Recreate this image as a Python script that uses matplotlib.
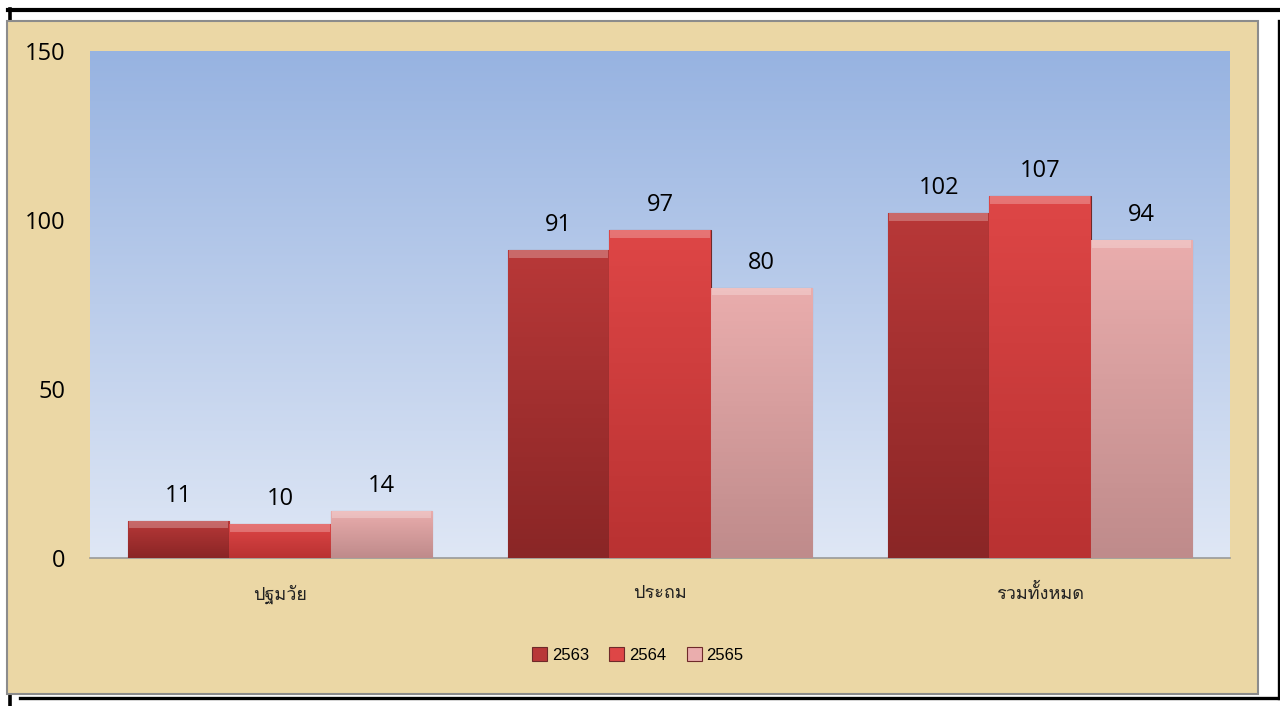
import numpy as np
import matplotlib
matplotlib.use('Agg')
import matplotlib.pyplot as plt
from matplotlib import font_manager, ft2font
from matplotlib.colors import LinearSegmentedColormap
from matplotlib.lines import Line2D
from matplotlib.patches import Rectangle

categories = ['ปฐมวัย', 'ประถม', 'รวมทั้งหมด']
years = ['2563', '2564', '2565']
values = {
    '2563': [11, 91, 102],
    '2564': [10, 97, 107],
    '2565': [14, 80, 94],
}
yticks = [0, 50, 100, 150]

# colours (top, bottom) for each series
shades = {
    '2563': ('#b83838', '#8a2626'),
    '2564': ('#de4646', '#b93232'),
    '2565': ('#eaadad', '#bf8b8b'),
}


def find_thai_font():
    # look for any installed font that has Thai glyphs
    for f in font_manager.fontManager.ttflist:
        try:
            cm = ft2font.FT2Font(f.fname).get_charmap()
        except Exception:
            continue
        if 0x0E1B in cm and 0x0E21 in cm:
            return f.name
    return None


thai = find_thai_font()
fams = ['Open Sans', 'DejaVu Sans']
if thai:
    fams = ['Open Sans', thai, 'DejaVu Sans']
plt.rcParams['font.family'] = fams

fig = plt.figure(figsize=(12.8, 7.06), dpi=100)
W, H = 1280, 706


def fx(px):
    return px / W


def fy(py):
    return 1 - py / H


# frame lines (behind the parchment panel)
fig.add_artist(Line2D([fx(9.5), fx(9.5)], [fy(9), fy(706)], color='black', lw=2.6, zorder=0))
fig.add_artist(Line2D([fx(8), fx(1280)], [fy(9.5), fy(9.5)], color='black', lw=3, zorder=0))
fig.add_artist(Line2D([fx(1278.5), fx(1278.5)], [fy(21), fy(698)], color='black', lw=2.4, zorder=0))
fig.add_artist(Line2D([fx(20), fx(1280)], [fy(697.5), fy(697.5)], color='black', lw=2.4, zorder=0))

# parchment panel
panel = Rectangle((fx(7), fy(694)), fx(1258) - fx(7), fy(21) - fy(694),
                  transform=fig.transFigure, facecolor='#ebd7a5',
                  edgecolor='#8c8c8c', lw=1.5, zorder=1)
fig.add_artist(panel)

ax = fig.add_axes([fx(90), fy(558), fx(1230) - fx(90), fy(51) - fy(558)])
ax.set_zorder(2)
ax.patch.set_alpha(0)

# plot background gradient
bg = LinearSegmentedColormap.from_list('bg', ['#dfe7f5', '#97b3e1'])
ax.imshow(np.linspace(0, 1, 256).reshape(-1, 1)[::-1], cmap=bg, aspect='auto',
          extent=[0, 1, 0, 1], transform=ax.transAxes, zorder=0)

x = np.arange(len(categories))
bw = 0.266
for i, yr in enumerate(years):
    pos = x + (i - 1) * bw
    bars = ax.bar(pos, values[yr], bw, color=shades[yr][0],
                  edgecolor='#6e2a2a' if i < 2 else '#9a7070', lw=0.8, zorder=3)
    cmap = LinearSegmentedColormap.from_list('c' + yr, [shades[yr][1], shades[yr][0]])
    for b, v in zip(bars, values[yr]):
        x0, w, h = b.get_x(), b.get_width(), b.get_height()
        im = ax.imshow(np.linspace(0, 1, 64).reshape(-1, 1)[::-1], cmap=cmap,
                       aspect='auto', extent=[x0, x0 + w, 0, h], zorder=3)
        im.set_clip_path(b)
        # top bevel highlight
        bev = min(2.2, h * 0.3)
        ax.bar(x0 + w / 2, bev, w * 0.98, bottom=h - bev,
               color='white', alpha=0.25, lw=0, zorder=4)
        ax.annotate(str(v), (x0 + w / 2, h), xytext=(0, 18),
                    textcoords='offset points', ha='center', va='center',
                    fontsize=17, color='black', zorder=5)

ax.set_xlim(-0.5, 2.5)
ax.set_ylim(0, 150)
ax.set_yticks(yticks)
ax.set_yticklabels([str(t) for t in yticks], fontsize=17)
ax.tick_params(axis='y', length=0, pad=18)
ax.set_xticks(x)
ax.set_xticklabels(categories, fontsize=13, color='#222222')
ax.tick_params(axis='x', length=0, pad=19)
for s in ['left', 'right', 'top']:
    ax.spines[s].set_visible(False)
ax.spines['bottom'].set_color('#999999')
ax.spines['bottom'].set_linewidth(1.2)

handles = [Rectangle((0, 0), 1, 1, facecolor=shades[yr][0], edgecolor='#6e2a2a', lw=0.8)
           for yr in years]
leg = fig.legend(handles, years, loc='center', bbox_to_anchor=(fx(638), fy(655)),
                 ncol=3, frameon=False, handlelength=0.9, handleheight=0.9,
                 handletextpad=0.3, columnspacing=1.2,
                 prop={'family': ['Liberation Sans', 'DejaVu Sans'], 'size': 12})
leg.set_zorder(3)

fig.savefig('out.png', dpi=100)
